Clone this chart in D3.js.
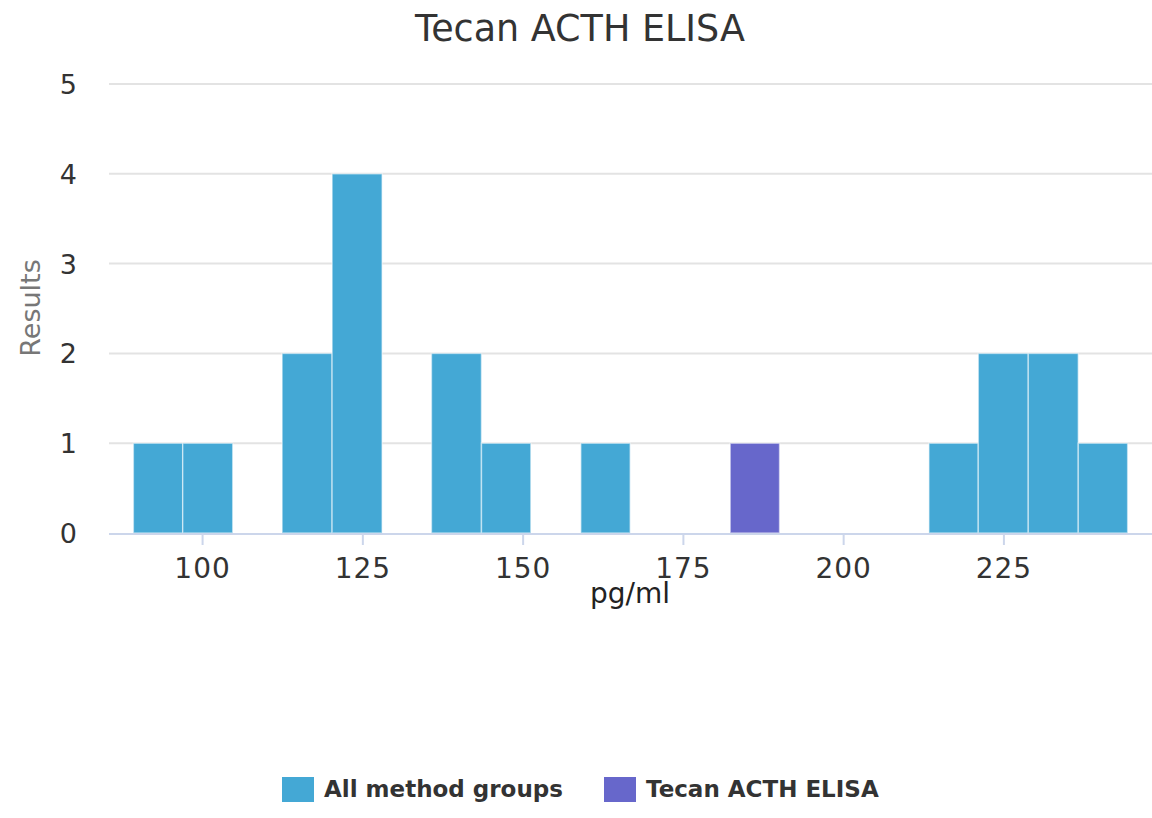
<!DOCTYPE html>
<html>
<head>
<meta charset="utf-8">
<script src="https://cdn.jsdelivr.net/npm/d3@7"></script>
<style>
  body { margin: 0; background: #fff; }
  text { font-family: "DejaVu Sans", sans-serif; }
</style>
</head>
<body>
<div id="main"></div>
<script>
const ctx = {
    w: 1152,
    h: 818,
    left: 109,
    right: 1152,
    top: 84,
    bottom: 533
};

// histogram bins (pg/ml), lower edges + the last upper edge
const binEdges = [89.2, 96.9, 104.7, 112.4, 120.2, 128.0, 135.7, 143.5, 151.2, 159.0,
                  166.7, 174.5, 182.3, 190.0, 197.8, 205.5, 213.3, 221.0, 228.8, 236.6, 244.3];
const allCounts   = [1, 1, 0, 2, 4, 0, 2, 1, 0, 1, 0, 0, 0, 0, 0, 0, 1, 2, 2, 1];
const tecanCounts = [0, 0, 0, 0, 0, 0, 0, 0, 0, 0, 0, 0, 1, 0, 0, 0, 0, 0, 0, 0];
const xTicks = [100, 125, 150, 175, 200, 225];
const yTicks = [0, 1, 2, 3, 4, 5];
const seriesNames = ["All method groups", "Tecan ACTH ELISA"];
const seriesColors = ["#44a8d5", "#6767cb"];

const svg = d3.select("#main").append("svg")
    .attr("width", ctx.w)
    .attr("height", ctx.h);

const x = d3.scaleLinear().domain([85.4, 248.1]).range([ctx.left, ctx.right]);
const y = d3.scaleLinear().domain([0, 5]).range([ctx.bottom, ctx.top]);

// gridlines
svg.append("g").selectAll("line")
   .data(yTicks.filter(d => d > 0))
   .enter().append("line")
   .attr("x1", ctx.left).attr("x2", ctx.right)
   .attr("y1", d => y(d)).attr("y2", d => y(d))
   .attr("stroke", "#e3e3e3")
   .attr("stroke-width", 2);

// y labels
svg.append("g").selectAll("text")
   .data(yTicks)
   .enter().append("text")
   .attr("x", 77)
   .attr("y", d => y(d) + 10)
   .attr("text-anchor", "end")
   .attr("font-size", 27)
   .attr("fill", "#333")
   .text(d => d);

svg.append("text")
   .attr("transform", "translate(40,308) rotate(-90)")
   .attr("text-anchor", "middle")
   .attr("font-size", 27)
   .attr("fill", "#777")
   .text("Results");

// bars
function bins(counts) {
    let out = [];
    for (let i = 0; i < counts.length; i++) {
        if (counts[i] > 0) out.push({x0: binEdges[i], x1: binEdges[i + 1], n: counts[i]});
    }
    return out;
}

[allCounts, tecanCounts].forEach(function(counts, s) {
    svg.append("g").selectAll("rect")
       .data(bins(counts))
       .enter().append("rect")
       .attr("x", d => x(d.x0))
       .attr("y", d => y(d.n))
       .attr("width", d => x(d.x1) - x(d.x0))
       .attr("height", d => y(0) - y(d.n))
       .attr("fill", seriesColors[s])
       .attr("stroke", "rgba(255,255,255,0.5)")
       .attr("stroke-width", 1.5);
});

// x axis
svg.append("line")
   .attr("x1", ctx.left).attr("x2", ctx.right)
   .attr("y1", ctx.bottom + 1).attr("y2", ctx.bottom + 1)
   .attr("stroke", "#ccd6eb")
   .attr("stroke-width", 2);

const xg = svg.append("g");
xg.selectAll("line")
  .data(xTicks)
  .enter().append("line")
  .attr("x1", d => x(d)).attr("x2", d => x(d))
  .attr("y1", ctx.bottom + 1).attr("y2", ctx.bottom + 12)
  .attr("stroke", "#ccd6eb")
  .attr("stroke-width", 2);
xg.selectAll("text")
  .data(xTicks)
  .enter().append("text")
  .attr("x", d => x(d))
  .attr("y", 578)
  .attr("text-anchor", "middle")
  .attr("font-size", 28)
  .attr("letter-spacing", 1)
  .attr("fill", "#333")
  .text(d => d);

svg.append("text")
   .attr("x", 630)
   .attr("y", 603)
   .attr("text-anchor", "middle")
   .attr("font-size", 28)
   .attr("fill", "#222")
   .text("pg/ml");

// title
svg.append("text")
   .attr("x", 580)
   .attr("y", 41)
   .attr("text-anchor", "middle")
   .attr("font-size", 36.5)
   .attr("fill", "#333")
   .text("Tecan ACTH ELISA");

// legend
const legendX = [282, 604];
const lg = svg.append("g").selectAll("g")
   .data(seriesNames)
   .enter().append("g")
   .attr("transform", (d, i) => `translate(${legendX[i]},777)`);
lg.append("rect")
  .attr("width", 32).attr("height", 25)
  .attr("fill", (d, i) => seriesColors[i]);
lg.append("text")
  .attr("x", 42)
  .attr("y", 20)
  .attr("font-size", 23)
  .attr("font-weight", "bold")
  .attr("fill", "#333")
  .text(d => d);
</script>
</body>
</html>
